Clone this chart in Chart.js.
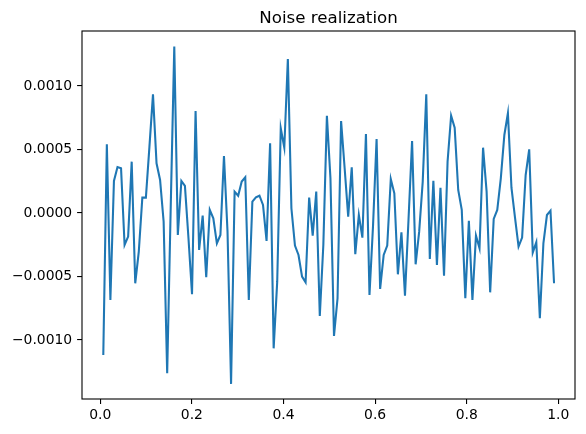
<!DOCTYPE html>
<html><head><meta charset="utf-8">
<script src="https://cdn.jsdelivr.net/npm/chart.js@4"></script>
<style>html,body{margin:0;padding:0;background:#fff}canvas{display:block}</style>
</head><body>
<canvas id="c" width="586" height="434"></canvas>
<script>
const chartTitle = "Noise realization";
const noiseValues = [
 -0.001118, 0.000541, -0.000685, 0.000252, 0.000362, 0.000352, -0.000252, -0.000186, 0.000404, -0.000554,
 -0.000305, 0.000121, 0.000121, 0.000522, 0.000934, 0.000391, 0.000260, -0.000068, -0.001262, 0.000050,
 0.001310, -0.000173, 0.000252, 0.000213, -0.000199, -0.000640, 0.000803, -0.000291, -0.000021, -0.000506,
 0.000024, -0.000042, -0.000239, -0.000173, 0.000449, -0.000147, -0.001346, 0.000168, 0.000136, 0.000247,
 0.000281, -0.000685, 0.000089, 0.000123, 0.000136, 0.000063, -0.000220, 0.000549, -0.001066, -0.000541,
 0.000667, 0.000514, 0.001213, 0.000037, -0.000257, -0.000331, -0.000501, -0.000546, 0.000121, -0.000178,
 0.000168, -0.000811, -0.000250, 0.000766, 0.000273, -0.000969, -0.000672, 0.000724, 0.000352, -0.000029,
 0.000360, -0.000325, -0.000016, -0.000194, 0.000622, -0.000646, -0.000100, 0.000583, -0.000598, -0.000331,
 -0.000257, 0.000268, 0.000155, -0.000483, -0.000152, -0.000651, -0.000050, 0.000567, -0.000404, -0.000147,
 0.000247, 0.000934, -0.000362, 0.000254, -0.000409, 0.000199, -0.000494, 0.000404, 0.000766, 0.000672,
 0.000181, 0.000024, -0.000672, -0.000061, -0.000685, -0.000178, -0.000278, 0.000514, 0.000168, -0.000625,
 -0.000047, 0.000024, 0.000273, 0.000614, 0.000785, 0.000199, -0.000037, -0.000265, -0.000194, 0.000299,
 0.000501, -0.000312, -0.000231, -0.000829, -0.000239, -0.000016, 0.000018, -0.000554
];
// uniform sampling grid of the realization
const sampleStart = 0.0065;
const sampleStep = 0.00775;
const sampleX = noiseValues.map((_, i) => sampleStart + i * sampleStep);
const xTicks = [0.0, 0.2, 0.4, 0.6, 0.8, 1.0];
const yTicks = [-0.001, -0.0005, 0.0, 0.0005, 0.001];
const xLimits = [-0.040, 1.0365];
const yLimits = [-0.001465, 0.001433];

const FONT = "'DejaVu Sans', sans-serif";
const tickFont = { family: "DejaVu Sans", size: 13.9 };

const frameAndTitle = {
  id: 'frameAndTitle',
  afterDraw(chart) {
    const { ctx, chartArea: a } = chart;
    ctx.save();
    ctx.strokeStyle = '#000';
    ctx.lineWidth = 1.1;
    ctx.strokeRect(a.left, a.top, a.right - a.left, a.bottom - a.top);
    ctx.fillStyle = '#000';
    ctx.font = "16.67px " + FONT;
    ctx.textAlign = 'center';
    ctx.textBaseline = 'alphabetic';
    ctx.fillText(chartTitle, (a.left + a.right) / 2, a.top - 8);
    ctx.restore();
  }
};

new Chart(document.getElementById('c'), {
  type: 'line',
  data: {
    datasets: [{
      data: sampleX.map((x, i) => ({ x: x, y: noiseValues[i] })),
      borderColor: '#1f77b4',
      borderWidth: 2.08,
      pointRadius: 0,
      tension: 0,
      fill: false
    }]
  },
  options: {
    responsive: false,
    animation: false,
    devicePixelRatio: 1,
    layout: { padding: { left: 0, right: 11, top: 31, bottom: 0 } },
    plugins: { legend: { display: false }, title: { display: false }, tooltip: { enabled: false } },
    scales: {
      x: {
        type: 'linear',
        min: xLimits[0], max: xLimits[1],
        afterBuildTicks: s => { s.ticks = xTicks.map(v => ({ value: v })); },
        afterFit: s => { s.height = 35; },
        grid: { display: true, drawOnChartArea: false, drawTicks: true, tickLength: 4.9, color: '#000', lineWidth: 1.1 },
        border: { display: false },
        ticks: { color: '#000', font: tickFont, padding: 3, maxRotation: 0, autoSkip: false,
          callback: v => Number(v).toFixed(1) }
      },
      y: {
        type: 'linear',
        min: yLimits[0], max: yLimits[1],
        afterBuildTicks: s => { s.ticks = yTicks.map(v => ({ value: v })); },
        afterFit: s => { s.width = 82; },
        grid: { display: true, drawOnChartArea: false, drawTicks: true, tickLength: 4.9, color: '#000', lineWidth: 1.1 },
        border: { display: false },
        ticks: { color: '#000', font: tickFont, padding: 4.9, autoSkip: false,
          callback: v => Number(v).toFixed(4).replace('-', '\u2212') }
      }
    }
  },
  plugins: [frameAndTitle]
});
</script>
</body></html>
